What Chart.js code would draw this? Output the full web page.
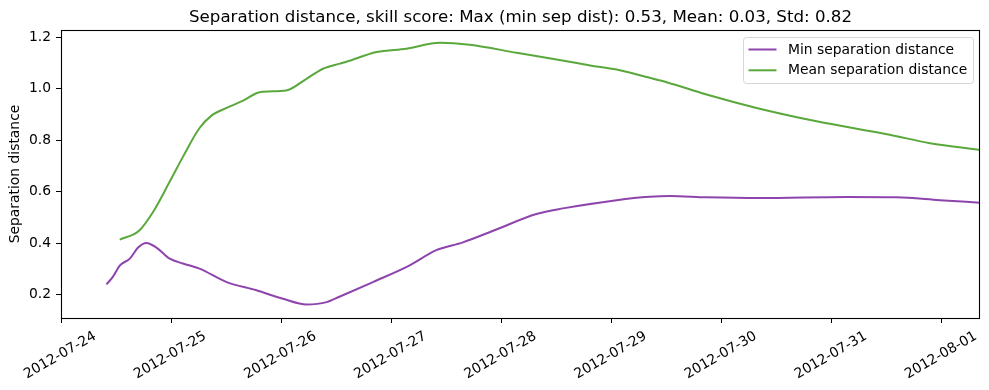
<!DOCTYPE html>
<html>
<head>
<meta charset="utf-8">
<script src="https://cdn.jsdelivr.net/npm/chart.js@4.4.1/dist/chart.umd.min.js"></script>
<style>
  html, body { margin: 0; padding: 0; background: #ffffff; }
  #wrap { width: 989px; height: 390px; position: relative; }
</style>
</head>
<body>
<div id="wrap"><canvas id="c" width="989" height="390"></canvas></div>
<script>
// ---- data (hours since 2012-07-24 00:00) ----
const titleText = "Separation distance, skill score: Max (min sep dist): 0.53, Mean: 0.03, Std: 0.82";
const seriesNames = ["Min separation distance", "Mean separation distance"];
const tickLabels = ["2012-07-24","2012-07-25","2012-07-26","2012-07-27","2012-07-28","2012-07-29","2012-07-30","2012-07-31","2012-08-01"];
const tickHours = [0, 24, 48, 72, 96, 120, 144, 168, 192];
const yTickValues = [0.2, 0.4, 0.6, 0.8, 1.0, 1.2];

const minHours  = [9.9, 11.3, 12.8, 15.0, 16.8, 18.6, 20.8, 23.7, 26.6, 30.2, 36.1, 42.6, 48.4, 53.5, 57.9, 60.8, 68.0, 76.0, 81.8, 87.6, 94.9, 103.6, 109.4, 121.1, 128.3, 132.7, 140.7, 152.3, 171.2, 182.1, 191.5, 200.3];
const minValues = [0.240, 0.269, 0.313, 0.340, 0.383, 0.401, 0.383, 0.340, 0.321, 0.301, 0.249, 0.217, 0.184, 0.162, 0.171, 0.193, 0.249, 0.314, 0.373, 0.403, 0.453, 0.513, 0.535, 0.567, 0.580, 0.583, 0.578, 0.575, 0.579, 0.578, 0.567, 0.557];

const meanHours  = [12.8, 17.0, 20.1, 23.7, 26.6, 30.2, 32.8, 36.1, 39.7, 43.3, 49.1, 53.5, 57.1, 60.8, 62.2, 68.8, 75.3, 82.6, 89.1, 99.3, 108.0, 115.3, 121.1, 128.3, 132.0, 140.7, 151.6, 164.7, 180.6, 189.4, 200.3];
const meanValues = [0.414, 0.448, 0.522, 0.639, 0.736, 0.847, 0.895, 0.925, 0.953, 0.986, 0.993, 1.038, 1.077, 1.097, 1.104, 1.142, 1.155, 1.178, 1.170, 1.139, 1.113, 1.090, 1.074, 1.042, 1.025, 0.977, 0.925, 0.873, 0.821, 0.788, 0.762];

const colors = ["#8e44ad", "#5aa83c"];
const FONT = "DejaVu Sans";

const toPts = (xs, ys) => xs.map((x, i) => ({ x: x, y: ys[i] }));

const frame = {
  id: 'frame',
  afterDraw(chart) {
    const ctx = chart.ctx, a = chart.chartArea;
    ctx.save();
    // axes box
    ctx.strokeStyle = '#000';
    ctx.lineWidth = 1.1;
    ctx.strokeRect(Math.round(a.left) + 0.5, Math.round(a.top) + 0.5, Math.round(a.right - a.left) - 1, Math.round(a.bottom - a.top));
    // title
    ctx.fillStyle = '#000';
    ctx.font = '16.67px "' + FONT + '"';
    ctx.textAlign = 'center';
    ctx.textBaseline = 'alphabetic';
    ctx.fillText(titleText, (a.left + a.right) / 2, 21.5);
    // legend
    const bx = 743.5, by = 37.5, bw = 230, bh = 46, r = 3;
    ctx.beginPath();
    ctx.moveTo(bx + r, by);
    ctx.lineTo(bx + bw - r, by); ctx.quadraticCurveTo(bx + bw, by, bx + bw, by + r);
    ctx.lineTo(bx + bw, by + bh - r); ctx.quadraticCurveTo(bx + bw, by + bh, bx + bw - r, by + bh);
    ctx.lineTo(bx + r, by + bh); ctx.quadraticCurveTo(bx, by + bh, bx, by + bh - r);
    ctx.lineTo(bx, by + r); ctx.quadraticCurveTo(bx, by, bx + r, by);
    ctx.closePath();
    ctx.fillStyle = 'rgba(255,255,255,0.8)';
    ctx.fill();
    ctx.strokeStyle = '#d6d6d6';
    ctx.lineWidth = 1;
    ctx.stroke();
    const rows = [49.5, 70.3];
    chart.data.datasets.forEach((ds, i) => {
      ctx.strokeStyle = ds.borderColor;
      ctx.lineWidth = 2;
      ctx.beginPath();
      ctx.moveTo(748.5, rows[i]);
      ctx.lineTo(776.5, rows[i]);
      ctx.stroke();
      ctx.fillStyle = '#000';
      ctx.font = '13.89px "' + FONT + '"';
      ctx.textAlign = 'left';
      ctx.textBaseline = 'middle';
      ctx.fillText(ds.label, 788, rows[i] + 0.5);
    });
    ctx.restore();
  }
};

new Chart(document.getElementById('c'), {
  type: 'line',
  data: {
    datasets: [
      { label: seriesNames[0], data: toPts(minHours, minValues), borderColor: colors[0], backgroundColor: colors[0],
        borderWidth: 2, pointRadius: 0, cubicInterpolationMode: 'monotone', fill: false },
      { label: seriesNames[1], data: toPts(meanHours, meanValues), borderColor: colors[1], backgroundColor: colors[1],
        borderWidth: 2, pointRadius: 0, cubicInterpolationMode: 'monotone', fill: false }
    ]
  },
  options: {
    responsive: false,
    animation: false,
    devicePixelRatio: 1,
    layout: { padding: { top: 30, right: 9, left: 0, bottom: 0 } },
    plugins: { legend: { display: false }, title: { display: false }, tooltip: { enabled: false } },
    scales: {
      x: {
        type: 'linear',
        min: 0, max: 200.3,
        afterBuildTicks: (s) => { s.ticks = tickHours.map(v => ({ value: v })); },
        afterFit: (s) => { s.height = 72; s.paddingLeft = 0; s.paddingRight = 0; },
        grid: { display: true, drawOnChartArea: false, drawTicks: true, tickLength: 5, color: '#000', tickWidth: 1 },
        border: { display: false },
        ticks: {
          color: '#000', font: { family: FONT, size: 13.89 }, padding: 5,
          minRotation: 30, maxRotation: 30, autoSkip: false, labelOffset: 34,
          callback: (v) => { const i = tickHours.indexOf(v); return i >= 0 ? tickLabels[i] : ''; }
        }
      },
      y: {
        type: 'linear',
        min: 0.1095, max: 1.2275,
        afterBuildTicks: (s) => { s.ticks = yTickValues.map(v => ({ value: v })); },
        afterFit: (s) => { s.width = 61; s.paddingTop = 0; s.paddingBottom = 0; },
        grid: { display: true, drawOnChartArea: false, drawTicks: true, tickLength: 5, color: '#000', tickWidth: 1 },
        border: { display: false },
        title: { display: true, text: 'Separation distance', color: '#000', font: { family: FONT, size: 13.89 }, padding: { top: 7, bottom: 0 } },
        ticks: { color: '#000', font: { family: FONT, size: 13.89 }, padding: 5, callback: (v) => Number(v).toFixed(1) }
      }
    }
  },
  plugins: [frame]
});
</script>
</body>
</html>
